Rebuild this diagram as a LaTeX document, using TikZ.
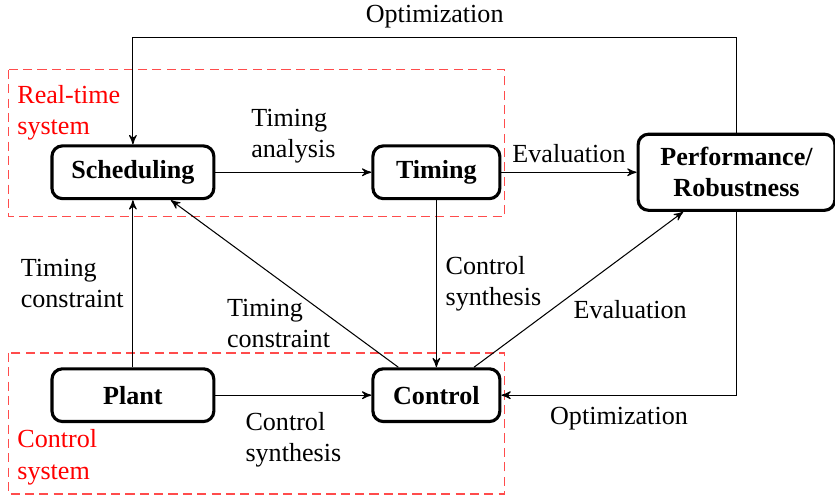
\documentclass[tikz,border=0pt]{standalone}
\usepackage{fontspec}
\setmainfont{Liberation Serif}
\usepackage{tikz}
\usetikzlibrary{arrows,calc,positioning,shapes}
\tikzset{
  blocknode/.style = {draw, rectangle, rounded corners=4pt, very thick, align=center,
  inner sep=5pt, minimum height=0.71cm, font=\bfseries},
  blk_wide/.style = {blocknode, minimum width=2.18cm},
  blk_narrow/.style = {blocknode, minimum width=1.71cm},
  blk_perf/.style = {blocknode, minimum width=2.65cm},
  grp_box/.style = {draw=red!70, line width=0.5pt, dash pattern=on 3.5pt off 2pt},
  grp_label/.style = {text=red, align=left}
}

\begin{document}
\begin{tikzpicture}[->,>=stealth',auto,
        	lbl/.style={align=left, font=\normalfont}]
		    \useasboundingbox (-1.79,2.32) rectangle (9.456,-4.388);
		    % blocks
		    \node [blk_wide] (sched) {Scheduling};
		    \node [blk_narrow, right=2.1cm of sched] (timing) {Timing};
		    \node [blk_perf, right=1.82cm of timing] (perf) {Performance/\\Robustness};
		    \node [blk_wide, below=2.25cm of sched] (plant) {Plant};
		    \node [blk_narrow, below=2.25cm of timing] (control) {Control};
		    % dashed groups
		    \draw[grp_box, -] ($(sched.center)+(-1.68,1.38)$) rectangle ($(timing.center)+(0.92,-0.60)$);
		    \draw[grp_box, -] ($(plant.center)+(-1.68,0.57)$) rectangle ($(control.center)+(0.92,-1.33)$);
		    \node [grp_label, anchor=north west, yshift=-2.5pt] (rt_label) at ($(sched.center)+(-1.68,1.38)$) {Real-time\\system};
		    \node [grp_label, anchor=south west] (cs_label) at ($(plant.center)+(-1.68,-1.33)$) {Control\\system};
		    % connections
		    \draw (sched) -- node[lbl, above] {Timing\\analysis} (timing);
		    \draw (timing) -- node[lbl, above] {Evaluation} (perf);
		    \draw (plant) -- node[lbl, left] {Timing\\constraint} (sched);
		    \draw (timing) -- node[lbl, right] {Control\\synthesis} (control);
		    \draw (plant) -- node[lbl, below=3pt] {Control\\synthesis} (control);
		    \draw (control) -- node[lbl, pos=0.26, anchor=east] {Timing\\constraint} (sched);
		    \draw (control) -- node[lbl, pos=0.37, right=5pt] {Evaluation} (perf);
		    \draw (perf.north) -- ++(0,1.28) -| node[lbl, pos=0.25, above] {Optimization} (sched.north);
		    \draw (perf.south) |- node[lbl, pos=0.75, below=1pt] {Optimization} (control.east);
\end{tikzpicture}
\end{document}
